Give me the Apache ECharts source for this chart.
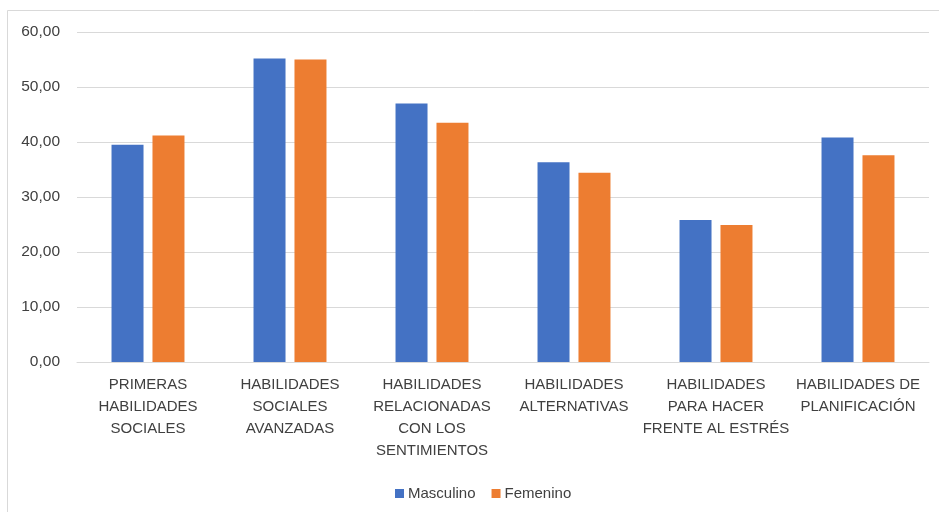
<!DOCTYPE html>
<html>
<head>
<meta charset="utf-8">
<script src="https://cdn.jsdelivr.net/npm/echarts@6/dist/echarts.min.js"></script>
<style>
  html, body { margin: 0; padding: 0; background: #fff; }
  #chart { width: 939px; height: 512px; }
</style>
</head>
<body>
<div id="chart"></div>
<script>
// Habilidades sociales: puntuaciones medias por sexo
const categories = [
  'PRIMERAS\nHABILIDADES\nSOCIALES',
  'HABILIDADES\nSOCIALES\nAVANZADAS',
  'HABILIDADES\nRELACIONADAS\nCON LOS\nSENTIMIENTOS',
  'HABILIDADES\nALTERNATIVAS',
  'HABILIDADES\nPARA HACER\nFRENTE AL ESTRÉS',
  'HABILIDADES DE\nPLANIFICACIÓN'
];
const masculino = [39.5, 55.2, 47.0, 36.3, 25.8, 40.8];
const femenino = [41.2, 55.0, 43.5, 34.4, 24.9, 37.6];
const seriesNames = ['Masculino', 'Femenino'];

const FONT = '"Liberation Sans", Arial, sans-serif';
const TEXT = '#404040';

const chart = echarts.init(document.getElementById('chart'), null, { renderer: 'canvas' });
chart.setOption({
  backgroundColor: '#ffffff',
  animation: false,
  textStyle: { fontFamily: FONT },
  graphic: [{
    type: 'rect',
    shape: { x: 7.5, y: 10.5, width: 940, height: 520 },
    style: { fill: 'none', stroke: '#d9d9d9', lineWidth: 1 },
    silent: true,
    z: -1
  }],
  grid: { left: 77, right: 10, top: 32, bottom: 150, containLabel: false },
  legend: {
    data: seriesNames,
    top: 481,
    left: 390,
    icon: 'rect',
    itemWidth: 9,
    itemHeight: 9,
    itemGap: 16,
    textStyle: { color: TEXT, fontSize: 15, fontFamily: FONT, padding: [0, 0, 0, -1] }
  },
  xAxis: {
    type: 'category',
    data: categories,
    axisLine: { lineStyle: { color: '#d9d9d9', width: 1 } },
    axisTick: { show: false },
    axisLabel: {
      interval: 0,
      color: TEXT,
      fontSize: 15,
      lineHeight: 22,
      margin: 12,
      fontFamily: FONT
    }
  },
  yAxis: {
    type: 'value',
    min: 0,
    max: 60,
    interval: 10,
    axisLine: { show: false },
    axisTick: { show: false },
    splitLine: { lineStyle: { color: '#d9d9d9', width: 1 } },
    axisLabel: {
      color: TEXT,
      fontSize: 15.5,
      margin: 17,
      fontFamily: FONT,
      formatter: v => v.toFixed(2).replace('.', ',')
    }
  },
  series: [
    {
      name: seriesNames[0],
      type: 'bar',
      data: masculino,
      barWidth: 32,
      barGap: '28%',
      itemStyle: { color: '#4472C4' }
    },
    {
      name: seriesNames[1],
      type: 'bar',
      data: femenino,
      barWidth: 32,
      barGap: '28%',
      itemStyle: { color: '#ED7D31' }
    }
  ]
});
</script>
</body>
</html>
